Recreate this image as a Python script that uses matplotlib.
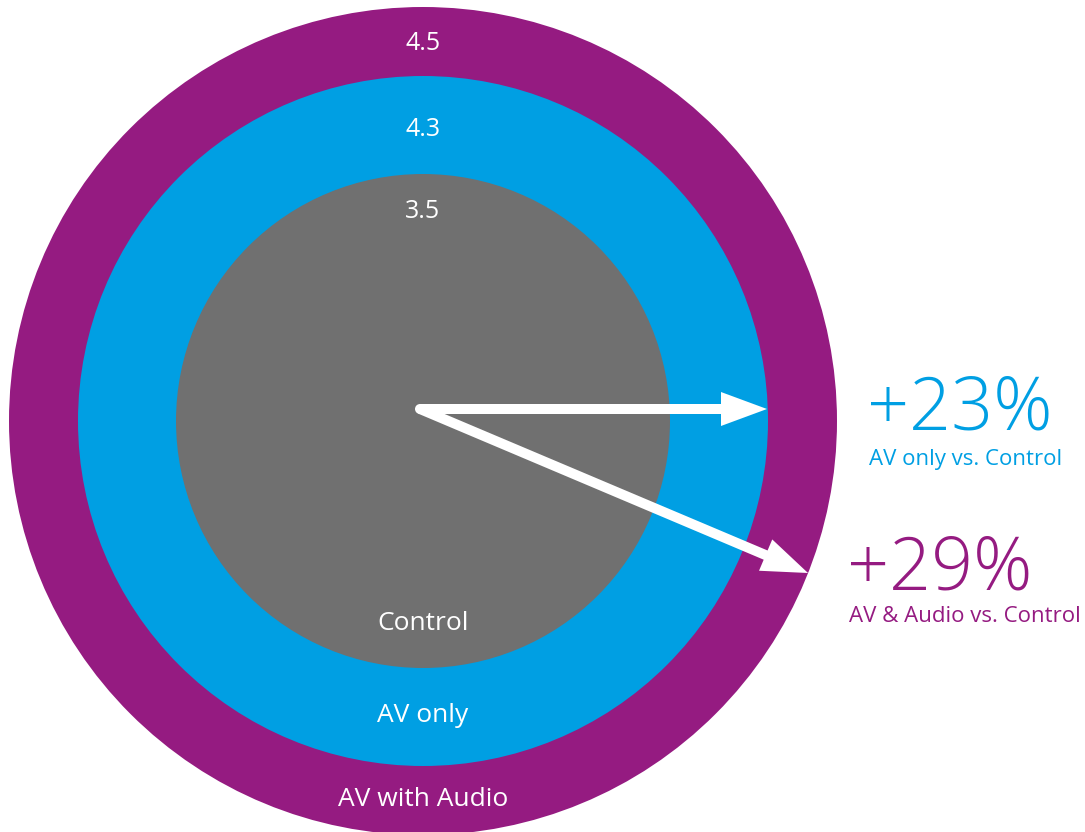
import matplotlib.pyplot as plt
from matplotlib.patches import Circle, FancyArrow

# values
groups = ['Control', 'AV only', 'AV with Audio']
scores = [3.5, 4.3, 4.5]
colors = ['#707070', '#009FE3', '#951B81']
compare_labels = ['AV only vs. Control', 'AV & Audio vs. Control']

plt.rcParams['font.family'] = ['Open Sans', 'DejaVu Sans']

fig = plt.figure(figsize=(10.85, 8.32), dpi=100)
ax = fig.add_axes([0, 0, 1, 1])
ax.set_xlim(0, 1085)
ax.set_ylim(832, 0)
ax.set_aspect('equal')
ax.axis('off')

cx, cy = 423, 421
radii = [247, 345, 414]   # drawing sizes of the rings (inner to outer)

for r, c in zip(radii[::-1], colors[::-1]):
    ax.add_patch(Circle((cx, cy), r, color=c, lw=0))

# score labels near the top of each disc, group names near the bottom
score_y = [212, 130, 44]
name_y = [623, 715, 800]
for s, g, sy, ny in zip(scores, groups, score_y, name_y):
    ax.text(cx, sy, f'{s:.1f}', color='white', fontsize=18, ha='center', va='center')
    ax.text(cx, ny, g, color='white', fontsize=19, ha='center', va='center')

# arrows
sx, sy0 = 420, 409
ends = [(767, 409), (808, 573)]
for ex, ey in ends:
    ax.add_patch(FancyArrow(sx, sy0, ex - sx, ey - sy0, width=10, head_width=34,
                            head_length=46, length_includes_head=True,
                            color='white', lw=0))
ax.add_patch(Circle((sx, sy0), 5, color='white', lw=0))

# uplift vs control
base = scores[0]
pos = [(960, 410, 966, 459), (940, 570, 965, 617)]
for val, lab, c, (bx, by, lx, ly) in zip(scores[1:], compare_labels, colors[1:], pos):
    pct = round((val / base - 1) * 100)
    ax.text(bx, by, f'+{pct}%', color=c, fontsize=53, fontweight='light',
            ha='center', va='center')
    ax.text(lx, ly, lab, color=c, fontsize=16, ha='center', va='center')

fig.savefig('out.png', dpi=100)
